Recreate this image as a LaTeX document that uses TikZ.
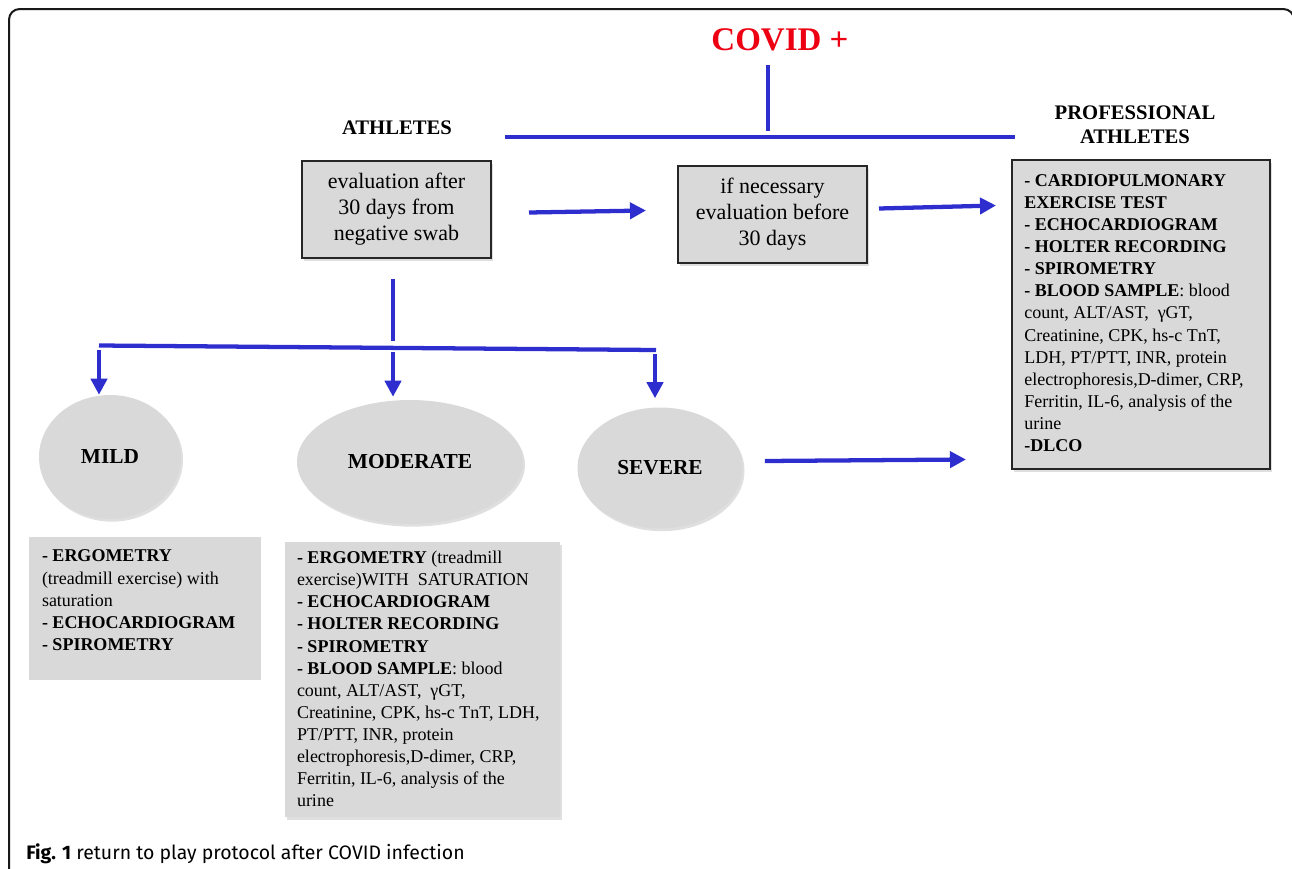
\documentclass[tikz,border=0pt]{standalone}
\usepackage{fontspec}
\setmainfont{Liberation Serif}
\newfontfamily\captionfont{Fira Sans}
\usetikzlibrary{arrows.meta,shapes.geometric,shadows,calc}
\definecolor{arrowblue}{RGB}{46,46,206}
\definecolor{boxgray}{RGB}{217,217,217}
\definecolor{covidred}{RGB}{236,0,18}
\newlength{\pxu}
\setlength{\pxu}{0.75pt}

\begin{document}
\begin{tikzpicture}[
		x=0.75pt, y=-0.75pt,
		blueline/.style = {draw=arrowblue, line width=3.2pt},
		bluearrow/.style = {blueline, -{Triangle[length=12pt, width=12pt]}},
		softshadow/.style = {drop shadow={opacity=0.25, shadow xshift=1.5pt, shadow yshift=-2pt}},
		heading/.style = {align=center, inner sep=0pt, font=\bfseries\fontsize{15.5}{18}\selectfont},
		framebox/.style = {draw=black!85, line width=1.5pt, fill=boxgray, softshadow, align=center,
				inner sep=0pt, font=\fontsize{16.5}{19.5}\selectfont},
		graybox/.style = {fill=boxgray, inner sep=0pt},
		grade/.style = {ellipse, fill=boxgray, softshadow, inner sep=0pt,
				font=\bfseries\fontsize{16}{19}\selectfont},
		listtext/.style = {anchor=north west, inner sep=0pt, align=left,
				font=\fontsize{13.5}{16.6}\selectfont}
	]
	\useasboundingbox (0,0) rectangle (1292,868);
	\draw[black!90, line width=1.5pt, rounded corners=8pt] (9,9) rectangle (1294,920);

	\node[text=covidred, inner sep=0pt, font=\bfseries\fontsize{24.75}{28}\selectfont] (covid) at (780,40) {COVID +};
	\node[heading] (athletes) at (397,128) {ATHLETES};
	\node[heading] (pro) at (1135,125) {PROFESSIONAL\\ATHLETES};

	\node[framebox, minimum width=189\pxu, minimum height=97\pxu] (after) at (396.5,209.5)
		{evaluation after\\30 days from\\negative swab};
	\node[framebox, minimum width=189\pxu, minimum height=97\pxu] (before) at (772.5,214.5)
		{if necessary\\evaluation before\\30 days};
	\node[framebox, minimum width=258\pxu, minimum height=309\pxu] (probox) at (1141,314.5) {};
	\node[listtext] (protext) at ($(probox.north west)+(13,15)$) {%
		\textbf{- CARDIOPULMONARY}\\
		\textbf{EXERCISE TEST}\\
		\textbf{- ECHOCARDIOGRAM}\\
		\textbf{- HOLTER RECORDING}\\
		\textbf{- SPIROMETRY}\\
		\textbf{- BLOOD SAMPLE}: blood\\
		count, ALT/AST,\ \ γGT,\\
		Creatinine, CPK, hs-c TnT,\\
		LDH, PT/PTT, INR, protein\\
		electrophoresis,D-dimer, CRP,\\
		Ferritin, IL-6, analysis of the\\
		urine\\
		\textbf{-DLCO}};

	\node[grade, minimum width=142\pxu, minimum height=124\pxu] (mild) at (110,457) {MILD};
	\node[grade, minimum width=226\pxu, minimum height=124\pxu] (moderate) at (410,462) {MODERATE};
	\node[grade, minimum width=165\pxu, minimum height=121\pxu] (severe) at (660,468) {SEVERE};

	\node[graybox, minimum width=232\pxu, minimum height=143\pxu] (mildbox) at (145,608.5) {};
	\node[listtext] (mildtext) at ($(mildbox.north west)+(13,13)$) {%
		\textbf{- ERGOMETRY}\\
		(treadmill exercise) with\\
		saturation\\
		\textbf{- ECHOCARDIOGRAM}\\
		\textbf{- SPIROMETRY}};
	\node[graybox, softshadow, minimum width=275\pxu, minimum height=275\pxu] (modbox) at (422.5,679.5) {};
	\node[listtext] (modtext) at ($(modbox.north west)+(12,9)$) {%
		\textbf{- ERGOMETRY} (treadmill\\
		exercise)WITH\ \ SATURATION\\
		\textbf{- ECHOCARDIOGRAM}\\
		\textbf{- HOLTER RECORDING}\\
		\textbf{- SPIROMETRY}\\
		\textbf{- BLOOD SAMPLE}: blood\\
		count, ALT/AST,\ \ γGT,\\
		Creatinine, CPK, hs-c TnT, LDH,\\
		PT/PTT, INR, protein\\
		electrophoresis,D-dimer, CRP,\\
		Ferritin, IL-6, analysis of the\\
		urine};

	\coordinate (stemtop) at (768,65);
	\coordinate (stembot) at (768,131);
	\coordinate (barL) at (505,137);
	\coordinate (barR) at (1015,137);
	\draw[blueline] (stemtop) -- (stembot);
	\draw[blueline] (barL) -- (barR);

	\draw[bluearrow] ($(after.east)+(37,3)$) -- ($(before.west)+(-31,-4)$);
	\draw[bluearrow] ($(before.east)+(11,-6)$) -- ($(probox.west)+(-15,-109)$);
	\draw[bluearrow] ($(severe.east)+(22,-7)$) -- ($(probox.west)+(-45,145)$);

	\coordinate (splitL) at (99,345.5);
	\coordinate (splitR) at (656,350);
	\coordinate (dropmild) at (99,350);
	\coordinate (dropmod) at (393,352);
	\coordinate (dropsev) at (655,354);
	\draw[blueline] ($(after.south)+(-3.5,20)$) -- ($(after.south)+(-3.5,82)$);
	\draw[blueline] (splitL) -- (splitR);
	\draw[bluearrow] (dropmild) -- (dropmild |- mild.north);
	\draw[bluearrow] (dropmod) -- ($(dropmod |- moderate.north)+(0,-3)$);
	\draw[bluearrow] (dropsev) -- ($(dropsev |- severe.north)+(0,-9)$);

	\node[anchor=base west, inner sep=0pt, font=\captionfont\fontsize{14.6}{17}\selectfont] (caption) at (26,859)
		{\textbf{Fig. 1} return to play protocol after COVID infection};
\end{tikzpicture}
\end{document}
